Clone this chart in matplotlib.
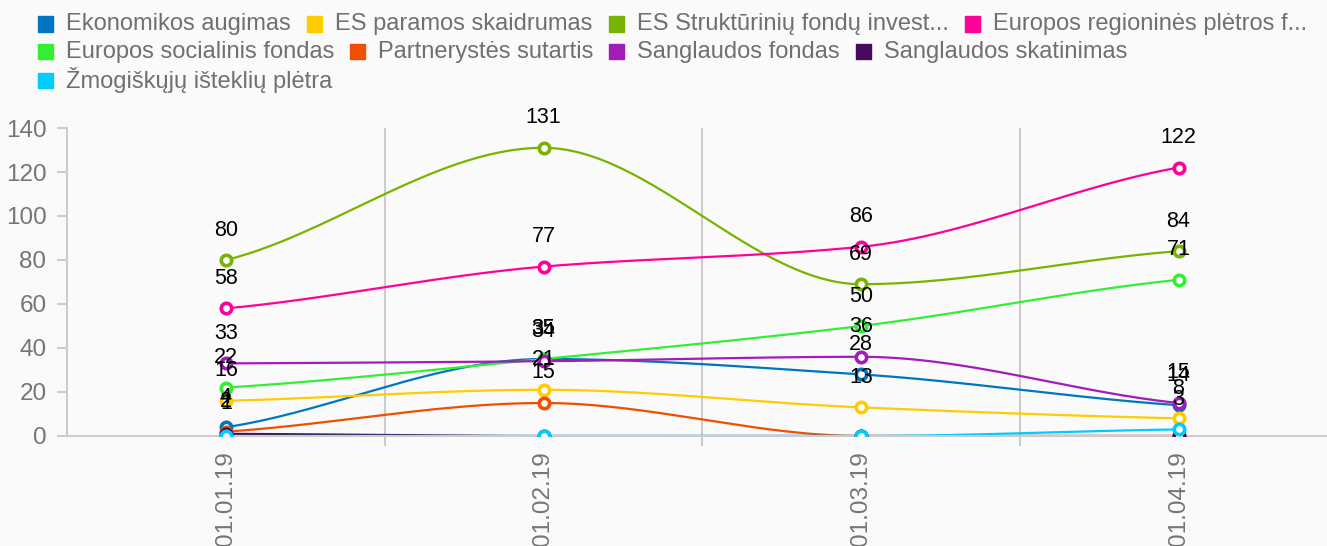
import numpy as np
import matplotlib
matplotlib.use("Agg")
import matplotlib.pyplot as plt
from matplotlib.patches import Rectangle

plt.rcParams['font.family'] = ['Liberation Sans', 'DejaVu Sans']

categories = ['01.01.19', '01.02.19', '01.03.19', '01.04.19']

series_names = [
    'Ekonomikos augimas', 'ES paramos skaidrumas', 'ES Struktūrinių fondų invest...',
    'Europos regioninės plėtros f...', 'Europos socialinis fondas', 'Partnerystės sutartis',
    'Sanglaudos fondas', 'Sanglaudos skatinimas', 'Žmogiškųjų išteklių plėtra',
]
ekonomikos_augimas = [4, 35, 28, 14]
es_paramos_skaidrumas = [16, 21, 13, 8]
es_strukturiniu = [80, 131, 69, 84]
europos_regionines = [58, 77, 86, 122]
europos_socialinis = [22, 35, 50, 71]
partnerystes_sutartis = [2, 15, 0, 0]
sanglaudos_fondas = [33, 34, 36, 15]
sanglaudos_skatinimas = [1, 0, 0, 0]
zmogiskuju_istekliu = [0, 0, 0, 3]

series_values = [ekonomikos_augimas, es_paramos_skaidrumas, es_strukturiniu,
                 europos_regionines, europos_socialinis, partnerystes_sutartis,
                 sanglaudos_fondas, sanglaudos_skatinimas, zmogiskuju_istekliu]
colors = ['#0075c2', '#ffcc00', '#77b300', '#ff0099', '#33ee33',
          '#f04e00', '#a11cb8', '#460a5e', '#00ccff']


def monotone(xs, ys, n=60):
    xs = np.asarray(xs, float); ys = np.asarray(ys, float)
    h = np.diff(xs); d = np.diff(ys) / h
    m = np.zeros_like(ys)
    m[0] = d[0]; m[-1] = d[-1]
    for i in range(1, len(ys) - 1):
        if d[i - 1] * d[i] <= 0:
            m[i] = 0
        else:
            m[i] = 2 / (1 / d[i - 1] + 1 / d[i])
    m[0] *= 0.7; m[-1] *= 0.7
    ox, oy = [], []
    for i in range(len(xs) - 1):
        t = np.linspace(0, 1, n)
        h00 = 2*t**3 - 3*t**2 + 1; h10 = t**3 - 2*t**2 + t
        h01 = -2*t**3 + 3*t**2; h11 = t**3 - t**2
        ox.append(xs[i] + t * h[i])
        oy.append(h00*ys[i] + h10*h[i]*m[i] + h01*ys[i+1] + h11*h[i]*m[i+1])
    return np.concatenate(ox), np.concatenate(oy)


W, H = 1327, 546
fig = plt.figure(figsize=(W/100, H/100), dpi=100, facecolor='#fafafa')
x0, x1, y0, y1 = 67.25, 1327, 436, 128
ax = fig.add_axes([x0/W, (H-y0)/H, (x1-x0)/W, (y0-y1)/H])
ax.set_facecolor('#fafafa')
band = 317.5
ax.set_xlim(-0.5, -0.5 + (x1 - x0)/band)
ax.set_ylim(0, 140)

grid_c = '#cccccc'
tick_c = '#757575'
for s in ['top', 'right']:
    ax.spines[s].set_visible(False)
for s in ['left', 'bottom']:
    ax.spines[s].set_color(grid_c)
    ax.spines[s].set_linewidth(1.5)

xs = np.arange(len(categories))
for b in [0.5, 1.5, 2.5]:
    ax.axvline(b, color=grid_c, lw=1.5, zorder=0)
ax.set_xticks(xs)
ax.set_xticklabels(categories, rotation=90, va='top', ha='center')
ax.set_xticks([0.5, 1.5, 2.5], minor=True)
ax.tick_params(axis='x', which='major', length=0, pad=11, labelsize=17.5, labelcolor=tick_c)
ax.tick_params(axis='x', which='minor', length=7, width=1.5, color=grid_c)
ax.set_yticks(np.arange(0, 141, 20))
ax.tick_params(axis='y', length=7, width=1.5, color=grid_c, pad=8, labelsize=17.5, labelcolor=tick_c)

for vals, c in zip(series_values, colors):
    sx, sy = monotone(xs, vals)
    ax.plot(sx, sy, color=c, lw=1.6, zorder=2)
    ax.plot(xs, vals, 'o', ms=7.5, mfc='white', mec=c, mew=2.6, zorder=3, ls='none')

for vals in series_values:
    for xi, v in zip(xs, vals):
        if v != 0:
            ax.annotate(str(v), (xi, v), xytext=(0, 30), textcoords='offset pixels',
                        ha='center', va='center', fontsize=15.5, color='black',
                        zorder=5, annotation_clip=False)

# legend
rows = [
    [(38, 0), (307, 1), (609, 2), (965, 3)],
    [(38, 4), (350, 5), (609, 6), (856, 7)],
    [(38, 8)],
]
row_y = [24, 52, 80]
for ry, items in zip(row_y, rows):
    for lx, idx in items:
        fig.patches.append(Rectangle((lx/W, (H - ry - 7.5)/H), 15/W, 15/H,
                                     transform=fig.transFigure, color=colors[idx], figure=fig))
        fig.text((lx + 28)/W, (H - ry)/H, series_names[idx], ha='left', va='center',
                 fontsize=17, color='#707070')

fig.savefig('out.png', dpi=100, facecolor='#fafafa')
